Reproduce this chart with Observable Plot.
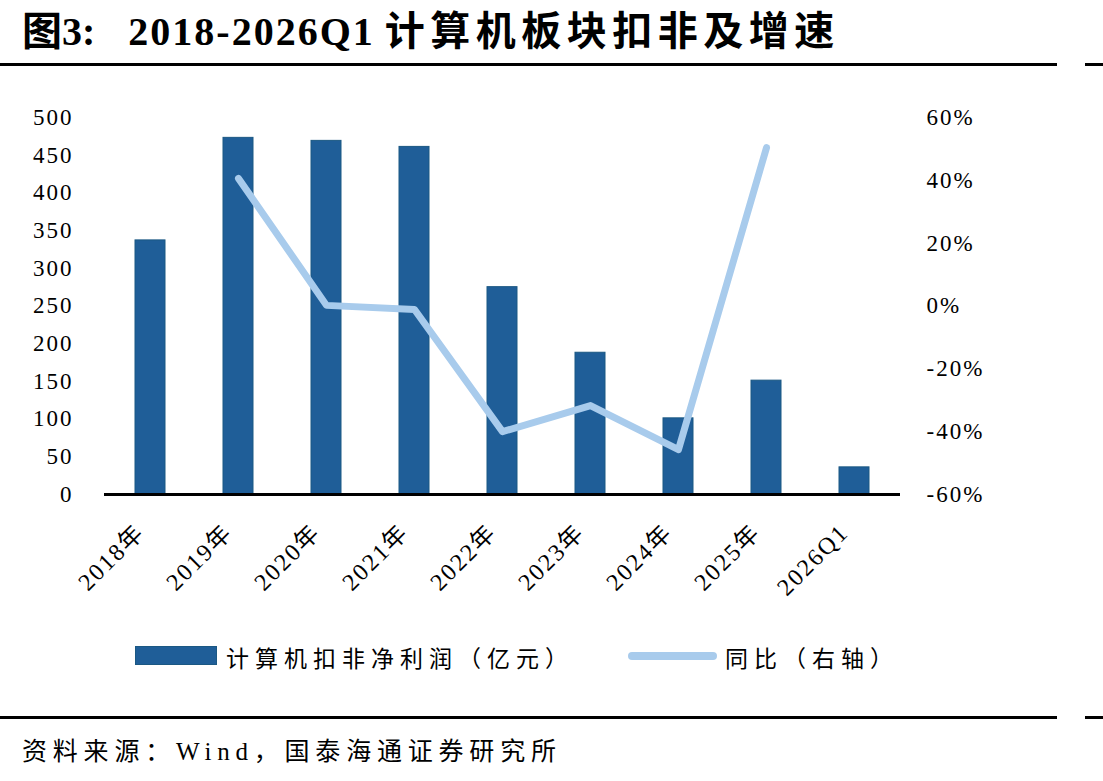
<!DOCTYPE html>
<html>
<head>
<meta charset="utf-8">
<script src="https://cdn.jsdelivr.net/npm/d3@7"></script>
<script src="https://cdn.jsdelivr.net/npm/@observablehq/plot@0.6"></script>
<style>
  html, body { margin: 0; padding: 0; background: #fff; }
  body { width: 1103px; height: 781px; position: relative; overflow: hidden;
         font-family: "Liberation Serif", "Times New Roman", "Noto Sans CJK SC", serif; color: #000; }
  #title { position: absolute; left: 22px; top: -1px; font-size: 40px; font-weight: bold; white-space: nowrap; }
  #title .cjk { letter-spacing: 5.5px; }
  #title .lat { letter-spacing: 2px; }
  .rule { position: absolute; height: 3px; background: #000; }
  #chart { position: absolute; left: 0; top: 90px; }
  #legend { position: absolute; top: 640px; left: 0; width: 1103px; height: 34px; font-size: 23px; }
  .lg { position: absolute; top: 0; white-space: nowrap; letter-spacing: 6px; }
  #source { position: absolute; left: 22px; top: 731px; font-size: 25px; letter-spacing: 5.8px; white-space: nowrap; }
</style>
</head>
<body>
<div id="title"><span>图3:</span><span style="display:inline-block; width:33px;"></span><span class="lat">2018-2026Q1</span> <span class="cjk">计算机板块扣非及增速</span></div>
<div class="rule" style="left:0; width:1057px; top:63px;"></div>
<div class="rule" style="left:1085px; width:18px; top:63px;"></div>
<div id="chart"></div>
<div id="legend">
  <div style="position:absolute; left:135px; top:6px; width:82px; height:19px; background:#1F5E98; border:1px solid #1B5883; box-sizing:border-box;"></div>
  <div class="lg" style="left:226px; top:0px;">计算机扣非净利润（亿元）</div>
  <div style="position:absolute; left:628px; top:12px; width:89px; height:8px; border-radius:4px; background:#A8CBEC;"></div>
  <div class="lg" style="left:725px; top:0px;">同比（右轴）</div>
</div>
<div class="rule" style="left:0; width:1057px; top:716px;"></div>
<div class="rule" style="left:1085px; width:18px; top:716px;"></div>
<div id="source">资料来源：Wind，国泰海通证券研究所</div>
<script>
const categories = ["2018年","2019年","2020年","2021年","2022年","2023年","2024年","2025年","2026Q1"];
const profit = [337, 473, 469, 461, 275, 188, 101, 151, 36];
const yoy = [null, 40.6, 0.2, -1.1, -40.0, -31.7, -45.7, 50.4, null];
const leftTicks = [0, 50, 100, 150, 200, 250, 300, 350, 400, 450, 500];
const rightTicks = [-60, -40, -20, 0, 20, 40, 60];

const toLeft = p => (p + 60) / 120 * 500;
const toPct = v => v / 500 * 120 - 60;

const bars = categories.map((c, i) => ({cat: c, v: profit[i]}));
const lineData = categories.map((c, i) => ({cat: c, p: yoy[i]})).filter(d => d.p != null);

const fontFam = '"Liberation Serif", "Times New Roman", "Noto Sans CJK SC", serif';

const chart = Plot.plot({
  width: 1103,
  height: 520,
  marginLeft: 104,
  marginRight: 203,
  marginTop: 27,
  marginBottom: 116,
  style: {fontFamily: fontFam, fontSize: "22px", color: "#000", background: "transparent", overflow: "visible"},
  x: {domain: categories, paddingInner: 0.66, paddingOuter: 0.34, align: 0.5},
  y: {domain: [0, 500]},
  marks: [
    Plot.barY(bars, {x: "cat", y: "v", fill: "#1F5E98", stroke: "#1B5883", strokeWidth: 1}),
    Plot.ruleY([0], {stroke: "#000", strokeWidth: 3}),
    Plot.line(lineData, {x: "cat", y: d => toLeft(d.p), stroke: "#A8CBEC", strokeWidth: 7, strokeLinecap: "round", strokeLinejoin: "round"}),
    Plot.axisY(leftTicks, {anchor: "left", tickSize: 0, tickPadding: 31, label: null, fontSize: 23, tickFormat: d => String(d)}),
    Plot.axisY(rightTicks.map(toLeft), {anchor: "right", tickSize: 0, tickPadding: 26, label: null, fontSize: 23, tickFormat: v => Math.round(toPct(v)) + "%"}),
    Plot.axisX({tickSize: 0, tickPadding: 34, tickRotate: -45, label: null, fontSize: 24, dx: -10})
  ]
});
d3.select(chart).selectAll("text").style("font-family", fontFam);
d3.select(chart).selectAll('g[aria-label="y-axis tick label"] text').style("letter-spacing", "2px");
d3.select(chart).selectAll('g[aria-label="x-axis tick label"] text').style("letter-spacing", "2px");
document.getElementById("chart").appendChild(chart);
</script>
</body>
</html>
